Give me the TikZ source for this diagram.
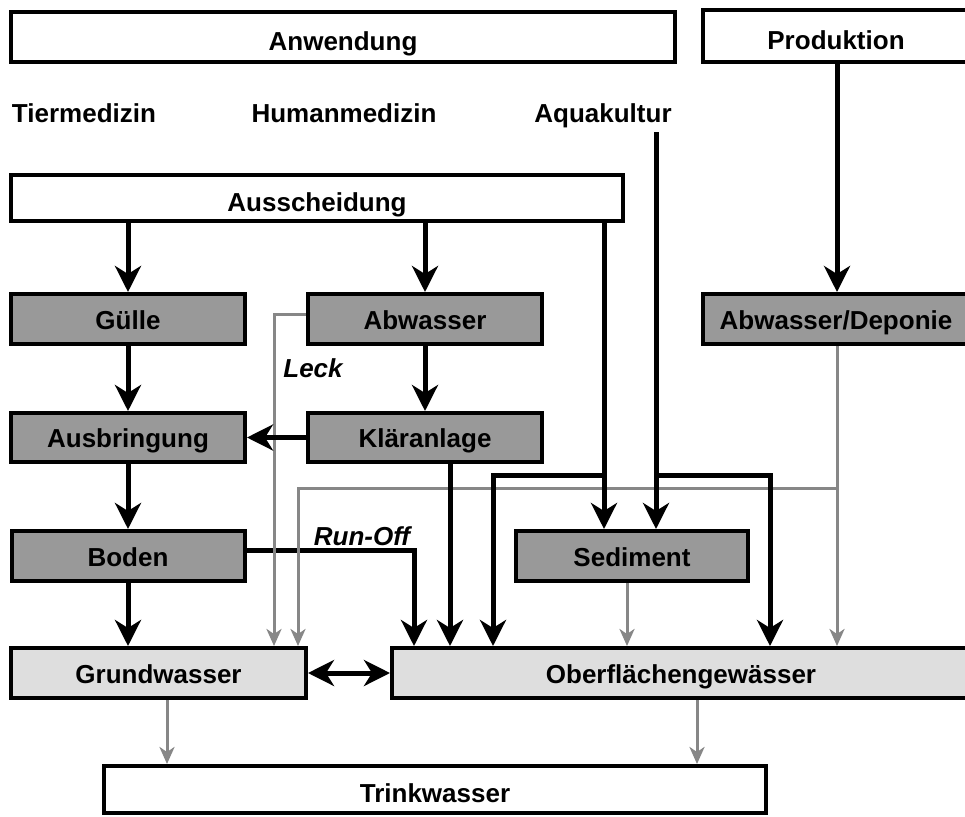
\documentclass[tikz,border=0pt]{standalone}
\usepackage{fontspec}
\setmainfont{Liberation Sans}
\usetikzlibrary{arrows.meta}

\definecolor{boxdark}{gray}{0.6}
\definecolor{boxlight}{gray}{0.87}
\definecolor{leakgray}{gray}{0.53}

\tikzset{
  box/.style={draw, line width=4pt, inner sep=0pt, minimum height=50pt,
    font=\fontsize{26}{30}\selectfont\bfseries, text height=21pt, text depth=0.4pt},
  whitebox/.style={box, fill=white, text height=27pt},
  darkbox/.style={box, fill=boxdark},
  lightbox/.style={box, fill=boxlight},
  source/.style={inner sep=0pt, font=\fontsize{26}{30}\selectfont\bfseries,
    text height=18.6pt, text depth=0pt},
  pathlabel/.style={source, font=\fontsize{26}{30}\selectfont\bfseries\itshape},
  flow/.style={line width=5pt, -{Stealth[length=26pt,width=26pt,inset=8pt]}},
  leak/.style={line width=3pt, leakgray, -{Stealth[length=17pt,width=15pt,inset=5pt]}}
}

\begin{document}
\begin{tikzpicture}[x=1pt,y=-1pt]
\useasboundingbox (0,0) rectangle (965,816);

% Top row
\node[whitebox, minimum width=664pt] (anwendung) at (343,37) {Anwendung};
\node[whitebox, minimum width=266pt, minimum height=52pt] (produktion) at (836,36) {Produktion};
\node[source] (tiermedizin) at (84,113) {Tiermedizin};
\node[source] (humanmedizin) at (344,113) {Humanmedizin};
\node[source] (aquakultur) at (603,113) {Aquakultur};
\node[whitebox, minimum width=612pt, minimum height=46pt] (ausscheidung) at (317,198) {Ausscheidung};

% Compartments
\node[darkbox, minimum width=234pt] (guelle) at (128,319) {Gülle};
\node[darkbox, minimum width=234pt] (abwasser) at (425,319) {Abwasser};
\node[darkbox, minimum width=266pt] (deponie) at (836,319) {Abwasser/Deponie};
\node[darkbox, minimum width=234pt, minimum height=49pt] (ausbringung) at (128,437.5) {Ausbringung};
\node[darkbox, minimum width=234pt, minimum height=49pt] (klaeranlage) at (425,437.5) {Kläranlage};
\node[darkbox, minimum width=233pt] (boden) at (128,556) {Boden};
\node[darkbox, minimum width=232pt] (sediment) at (632,556) {Sediment};
\node[lightbox, minimum width=295pt] (grundwasser) at (158.5,673) {Grundwasser};
\node[lightbox, minimum width=578pt] (oberflaeche) at (681,673) {Oberflächengewässer};
\node[whitebox, minimum width=662pt, minimum height=47pt] (trinkwasser) at (435,789.5) {Trinkwasser};

% Path labels
\node[pathlabel] (leck) at (313,368) {Leck};
\node[pathlabel] (runofflabel) at (362,536) {Run-Off};

% Bends
\coordinate (aqtop) at (656,132);
\coordinate (split1) at (604,475);
\coordinate (split2) at (656,475);
\coordinate (split3) at (837,488);
\coordinate (leftdrop) at (493,475);
\coordinate (rightdrop) at (770,475);
\coordinate (runoff) at (414,550);
\coordinate (leckbend) at (274,314);
\coordinate (deponiebend) at (298,488);

% Run-Off
\draw[flow] ([yshift=6pt]boden.east) -- (runoff) -- (oberflaeche.north -| runoff);

% Grey paths
\draw[leak] ([yshift=5pt]abwasser.west) -- (leckbend) -- (grundwasser.north -| leckbend);
\draw[leak] (deponie.south -| split3) -- (oberflaeche.north -| split3);
\draw[leak] (split3) -- (deponiebend) -- (grundwasser.north -| deponiebend);
\draw[leak] ([xshift=-5pt]sediment.south) -- ([xshift=-5pt]sediment.south |- oberflaeche.north);
\draw[leak] ([xshift=8.5pt]grundwasser.south) -- ([xshift=8.5pt]grundwasser.south |- trinkwasser.north);
\draw[leak] ([xshift=16pt]oberflaeche.south) -- ([xshift=16pt]oberflaeche.south |- trinkwasser.north);

% Main flows
\draw[flow] (produktion.south -| split3) -- (deponie.north -| split3);
\draw[flow] (ausscheidung.south -| guelle) -- (guelle.north);
\draw[flow] (ausscheidung.south -| abwasser) -- (abwasser.north);
\draw[flow] (ausscheidung.south -| split1) -- (sediment.north -| split1);
\draw[flow] (aqtop) -- (sediment.north -| split2);
\draw[flow] (split1) -- (leftdrop) -- (oberflaeche.north -| leftdrop);
\draw[flow] (split2) -- (rightdrop) -- (oberflaeche.north -| rightdrop);
\foreach \from/\to in {guelle/ausbringung, ausbringung/boden, abwasser/klaeranlage, klaeranlage/ausbringung}
  \draw[flow] (\from) -- (\to);
\draw[flow] ([xshift=25pt]klaeranlage.south) -- ([xshift=25pt]klaeranlage.south |- oberflaeche.north);
\draw[flow] (boden.south) -- (boden.south |- grundwasser.north);
\draw[flow, {Stealth[length=26pt,width=26pt,inset=8pt]}-{Stealth[length=26pt,width=26pt,inset=8pt]}] (grundwasser) -- (oberflaeche);
\end{tikzpicture}
\end{document}
